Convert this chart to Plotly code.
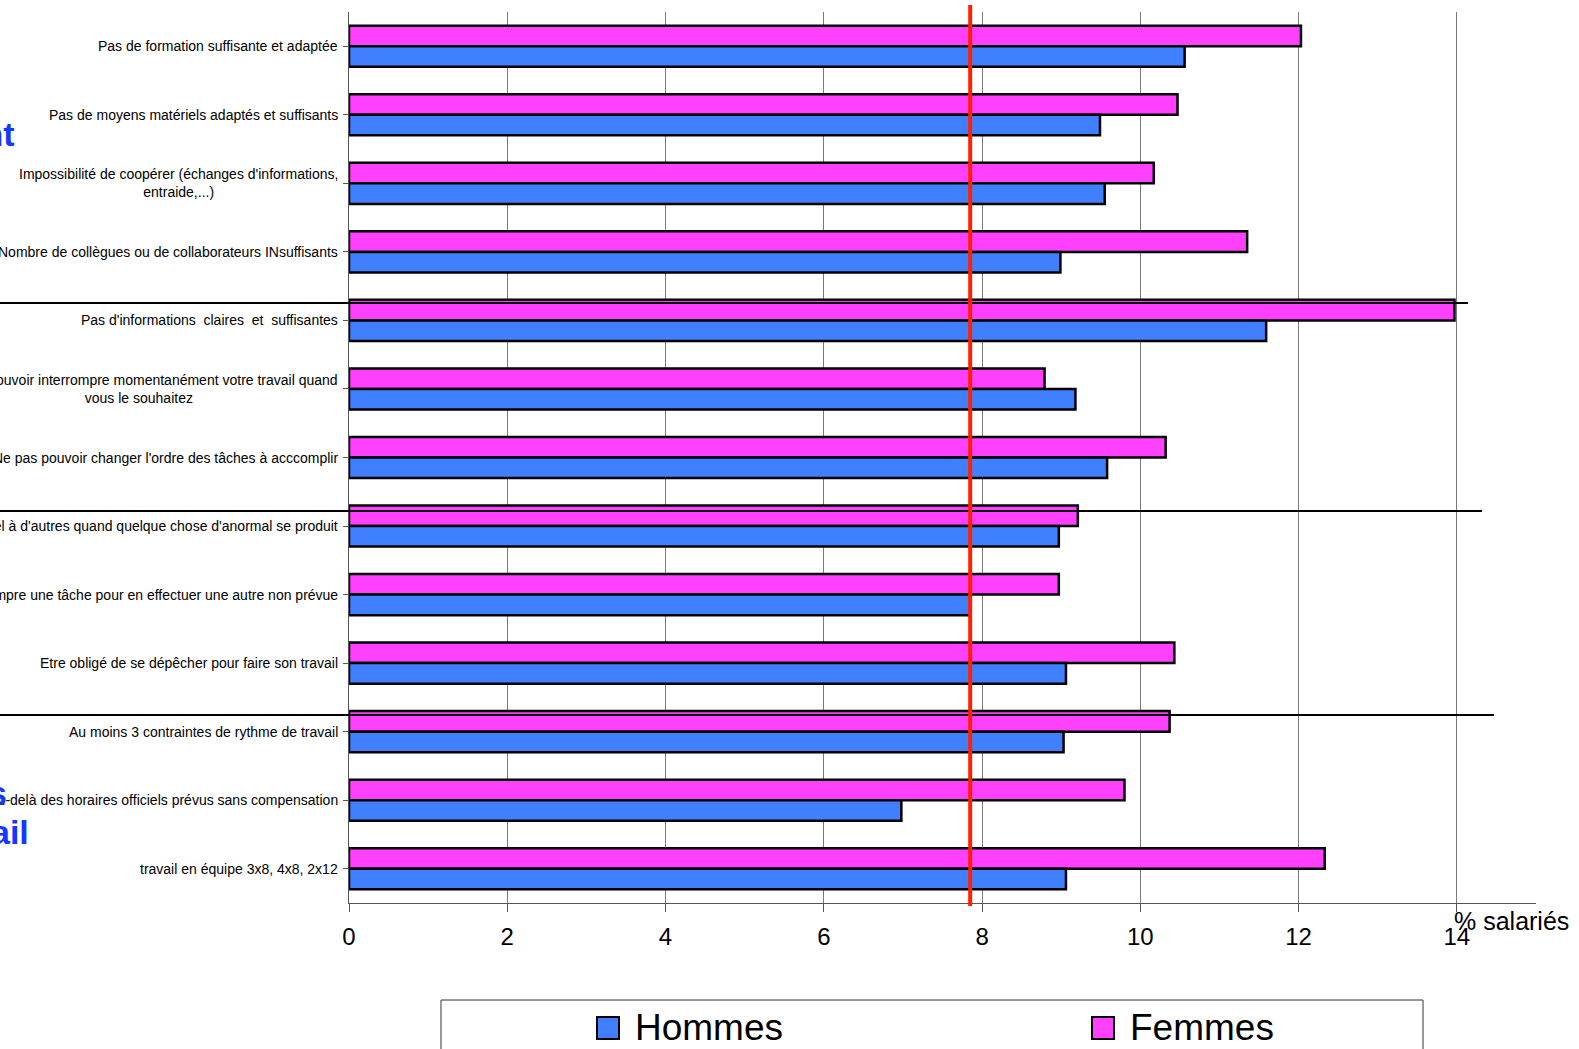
import plotly.graph_objects as go

# ---------------- data ----------------
categories = [
    "Pas de formation suffisante et adaptée",
    "Pas de moyens matériels adaptés et suffisants",
    "Impossibilité de coopérer (échanges d'informations,<br>entraide,...)",
    "Nombre de collègues ou de collaborateurs INsuffisants",
    "Pas d'informations  claires  et  suffisantes",
    "Ne pas pouvoir interrompre momentanément votre travail quand<br>vous le souhaitez",
    "Ne pas pouvoir changer l'ordre des tâches à acccomplir",
    "Devoir faire appel à d'autres quand quelque chose d'anormal se produit",
    "Devoir fréquemment interrompre une tâche pour en effectuer une autre non prévue",
    "Etre obligé de se dépêcher pour faire son travail",
    "Au moins 3 contraintes de rythme de travail",
    "Dépasser au-delà des horaires officiels prévus sans compensation",
    "travail en équipe 3x8, 4x8, 2x12",
]
hommes = [10.56, 9.49, 9.55, 8.99, 11.59, 9.18, 9.58, 8.97, 7.85, 9.06, 9.03, 6.98, 9.06]
femmes = [12.03, 10.47, 10.17, 11.35, 13.97, 8.79, 10.32, 9.21, 8.97, 10.43, 10.37, 9.80, 12.33]
series_names = ["Hommes", "Femmes"]
x_ticks = [0, 2, 4, 6, 8, 10, 12, 14]
x_max = 15
ref_value = 7.85          # red reference line
x_title = "% salariés"
group_titles = ["Environnement", "Horaires", "Temps de travail"]

# ---------------- geometry (pixels) ----------------
W, H = 1579, 1049
L, R, T, B = 349, 43, 12, 146
PW, PH = W - L - R, H - T - B
n = len(categories)


def px_x(px):
    return (px - L) / PW


def px_y(py):
    return (T + PH - py) / PH


FONT = "Liberation Sans, Arial, sans-serif"
C_H = "#4080ff"
C_F = "#ff40ff"
colors = {"Hommes": C_H, "Femmes": C_F}

fig = go.Figure()
fig.add_trace(go.Bar(
    y=list(range(n)), x=femmes, orientation="h", name=series_names[1],
    marker=dict(color=C_F, line=dict(color="black", width=2.5)),
))
fig.add_trace(go.Bar(
    y=list(range(n)), x=hommes, orientation="h", name=series_names[0],
    marker=dict(color=C_H, line=dict(color="black", width=2.5)),
))

annotations = []
for i, c in enumerate(categories):
    annotations.append(dict(
        x=px_x(340), xref="paper", xanchor="right",
        y=i, yref="y", yanchor="middle",
        text=c, showarrow=False, align="center",
        font=dict(family=FONT, size=14, color="black"),
    ))

# axis title
annotations.append(dict(
    x=px_x(1452), xref="paper", xanchor="left",
    y=px_y(921), yref="paper", yanchor="middle",
    text=x_title, showarrow=False,
    font=dict(family=FONT, size=25, color="black"),
))

# blue section titles, partly cut by left edge
for txt, right_px, cy in [(group_titles[0], 16, 134), (group_titles[1], 9, 793), (group_titles[2], 31, 832)]:
    annotations.append(dict(
        x=px_x(right_px), xref="paper", xanchor="right",
        y=px_y(cy), yref="paper", yanchor="middle",
        text="<b>" + txt + "</b>", showarrow=False,
        font=dict(family=FONT, size=34, color="#1438ff"),
    ))

shapes = []
# group separator lines
for py, right_px in [(303, 1468), (511, 1482), (715, 1494)]:
    shapes.append(dict(type="line", xref="paper", yref="paper",
                       x0=px_x(0), x1=px_x(right_px), y0=px_y(py), y1=px_y(py),
                       line=dict(color="black", width=2), layer="above"))
# red reference line
shapes.append(dict(type="line", xref="paper", yref="paper",
                   x0=ref_value / x_max, x1=ref_value / x_max,
                   y0=px_y(906), y1=px_y(5),
                   line=dict(color="#ff2000", width=4), layer="above"))

# legend (drawn: box, swatches, labels)
shapes.append(dict(type="rect", xref="paper", yref="paper",
                   x0=px_x(441), x1=px_x(1423), y0=px_y(1065), y1=px_y(1000),
                   line=dict(color="#333333", width=1), fillcolor="rgba(0,0,0,0)"))
for name, sw_x, tx_x in [(series_names[0], 597, 633), (series_names[1], 1092, 1128)]:
    shapes.append(dict(type="rect", xref="paper", yref="paper",
                       x0=px_x(sw_x), x1=px_x(sw_x + 22), y0=px_y(1039), y1=px_y(1017),
                       line=dict(color="black", width=2), fillcolor=colors[name]))
    annotations.append(dict(
        x=px_x(tx_x), xref="paper", xanchor="left",
        y=px_y(1027), yref="paper", yanchor="middle",
        text=name, showarrow=False,
        font=dict(family=FONT, size=37, color="black"),
    ))

fig.update_layout(
    width=W, height=H, autosize=False,
    margin=dict(l=L, r=R, t=T, b=B, pad=0),
    paper_bgcolor="white", plot_bgcolor="white",
    barmode="group", bargap=0.4, bargroupgap=0,
    font=dict(family=FONT, color="black"),
    showlegend=False,
    xaxis=dict(range=[0, x_max], tickvals=x_ticks, ticktext=[str(v) for v in x_ticks],
               showgrid=True, gridcolor="#7a7a7a", gridwidth=1,
               showline=True, linecolor="#555555", linewidth=1,
               ticks="outside", ticklen=8, tickcolor="#555555", ticklabelstandoff=4,
               tickfont=dict(family=FONT, size=24, color="black"),
               zeroline=False, fixedrange=True),
    yaxis=dict(range=[n - 0.5, -0.5], tickmode="array", tickvals=list(range(n)),
               showticklabels=False, showgrid=False, zeroline=False,
               showline=True, linecolor="#555555", linewidth=1,
               ticks="outside", ticklen=5, tickcolor="#555555", tickson="boundaries",
               type="linear", fixedrange=True),
    annotations=annotations,
    shapes=shapes,
)

fig.write_html("out.html")
